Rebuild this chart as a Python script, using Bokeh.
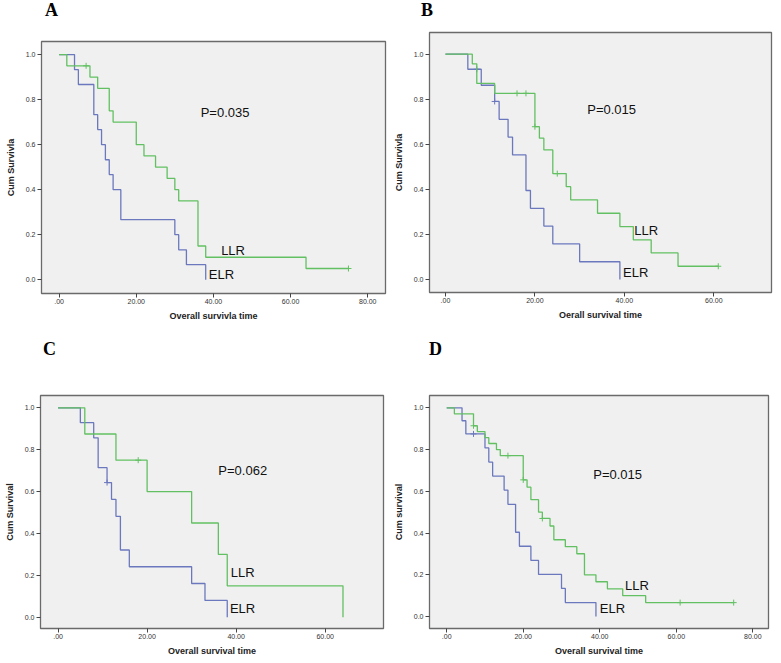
from bokeh.plotting import figure
from bokeh.models import FixedTicker, Label, Range1d, Div
from bokeh.layouts import column, row
from bokeh.embed import file_html
from bokeh.resources import INLINE

# ---------------- data ----------------
# Panel A
A_ELR_t = [4, 5, 9, 10, 11, 12, 13, 14, 16, 30, 31, 33, 38]
A_ELR_s = [0.933, 0.867, 0.733, 0.667, 0.600, 0.533, 0.467, 0.400, 0.267, 0.200, 0.133, 0.067, 0.0]
A_ELR_ct = []
A_ELR_cs = []
A_LLR_t = [2, 8, 10, 13, 14, 20, 22, 25, 28, 30, 31, 36, 38, 64]
A_LLR_s = [0.95, 0.90, 0.85, 0.75, 0.70, 0.60, 0.55, 0.50, 0.45, 0.40, 0.35, 0.15, 0.10, 0.05]
A_LLR_ct = [7, 75]
A_LLR_cs = [0.95, 0.05]

# Panel B
B_ELR_t = [5, 8, 11, 12, 14, 15, 18, 19, 22, 24, 30, 39]
B_ELR_s = [0.933, 0.862, 0.790, 0.711, 0.632, 0.553, 0.395, 0.316, 0.237, 0.158, 0.079, 0.0]
B_ELR_ct = [7, 11]
B_ELR_cs = [0.933, 0.790]
B_LLR_t = [6, 7, 11, 20, 21, 22, 24, 27, 28, 34, 39, 42, 46, 52]
B_LLR_s = [0.957, 0.870, 0.826, 0.678, 0.627, 0.575, 0.470, 0.412, 0.353, 0.294, 0.235, 0.176, 0.118, 0.059]
B_LLR_ct = [16, 18, 20, 25, 61]
B_LLR_cs = [0.826, 0.826, 0.678, 0.470, 0.059]

# Panel C
C_ELR_t = [5, 8, 9, 11, 12, 13, 14, 16, 30, 33, 38]
C_ELR_s = [0.929, 0.857, 0.714, 0.643, 0.563, 0.482, 0.321, 0.241, 0.161, 0.080, 0.0]
C_ELR_ct = [11]
C_ELR_cs = [0.643]
C_LLR_t = [6, 13, 20, 30, 36, 38, 64]
C_LLR_s = [0.875, 0.75, 0.60, 0.45, 0.30, 0.15, 0.0]
C_LLR_ct = [18]
C_LLR_cs = [0.75]

# Panel D
D_ELR_t = [4, 5, 10, 11, 12, 15, 16, 18, 19, 22, 24, 30, 31, 39]
D_ELR_s = [0.938, 0.875, 0.808, 0.740, 0.673, 0.606, 0.538, 0.404, 0.337, 0.269, 0.202, 0.135, 0.067, 0.0]
D_ELR_ct = [7]
D_ELR_cs = [0.875]
D_LLR_t = [2, 7, 8, 10, 11, 13, 14, 20, 21, 22, 24, 25, 27, 28, 31, 34, 36, 39, 42, 46, 52]
D_LLR_s = [0.971, 0.914, 0.886, 0.857, 0.829, 0.800, 0.771, 0.655, 0.620, 0.560, 0.500, 0.470,
           0.434, 0.368, 0.335, 0.301, 0.200, 0.167, 0.133, 0.100, 0.067]
D_LLR_ct = [7, 16, 20, 25, 61, 75]
D_LLR_cs = [0.914, 0.771, 0.655, 0.470, 0.067, 0.067]

y_ticks = [0.0, 0.2, 0.4, 0.6, 0.8, 1.0]
y_tick_labels = ["0.0", "0.2", "0.4", "0.6", "0.8", "1.0"]
x_ticks_80 = [0, 20, 40, 60, 80]
x_ticks_60 = [0, 20, 40, 60]
x_tick_labels = {0: ".00", 20: "20.00", 40: "40.00", 60: "60.00", 80: "80.00"}

p_values = ["P=0.035", "P=0.015", "P=0.062", "P=0.015"]
panel_letters = ["A", "B", "C", "D"]
y_titles = ["Cum Survivla", "Cum Survivla", "Cum Survival", "Cum survival"]
x_titles = ["Overall survivla time", "Oerall survival time", "Overall survival time", "Overall survival time"]

BLUE = "#6b78bd"
GREEN = "#62c062"
SANS = "Liberation Sans"


def km_path(t, s, ct):
    xs = [0] + list(t)
    ys = [1.0] + list(s)
    end = max(list(t) + list(ct))
    if end > xs[-1]:
        xs.append(end)
        ys.append(ys[-1])
    return xs, ys


def letter_div(letter, width, height, pad_left, pad_top):
    html = ('<div style="font-family:\'Liberation Serif\'; font-weight:bold; font-size:18px; '
            'line-height:20px; color:#000; padding-left:%dpx; padding-top:%dpx;">%s</div>'
            % (pad_left, pad_top, letter))
    return Div(text=html, width=width, height=height, margin=0)


def make_panel(width, height, borders, xr, yr, xticks, series,
               ptxt, p_xy, llr_xy, elr_xy, ytitle, xtitle):
    p = figure(width=width, height=height, output_backend="svg", toolbar_location=None,
               x_range=Range1d(*xr), y_range=Range1d(*yr),
               min_border_left=borders[0], min_border_right=borders[1],
               min_border_top=borders[2], min_border_bottom=borders[3])
    p.background_fill_color = "#f0f0f0"
    p.border_fill_color = "white"
    p.outline_line_color = "#6a6a6a"
    p.outline_line_width = 1.3
    p.grid.visible = False

    for ax in (p.xaxis[0], p.yaxis[0]):
        ax.axis_line_color = None
        ax.major_tick_line_color = "#444444"
        ax.major_tick_in = 0
        ax.major_tick_out = 4
        ax.minor_tick_line_color = None
        ax.major_label_text_font = SANS
        ax.major_label_text_font_size = "7px"
        ax.major_label_text_color = "#333333"
        ax.axis_label_text_font = SANS
        ax.axis_label_text_font_size = "9px"
        ax.axis_label_text_font_style = "bold"
        ax.axis_label_text_color = "#222222"
        ax.major_label_standoff = 2
    p.xaxis[0].axis_label_standoff = 4
    p.yaxis[0].axis_label_standoff = 7
    p.xaxis[0].major_label_standoff = 1

    p.xaxis.ticker = FixedTicker(ticks=xticks)
    p.xaxis.major_label_overrides = {k: v for k, v in x_tick_labels.items() if k in xticks}
    p.yaxis.ticker = FixedTicker(ticks=y_ticks)
    p.yaxis.major_label_overrides = dict(zip(y_ticks, y_tick_labels))
    p.xaxis.axis_label = xtitle
    p.yaxis.axis_label = ytitle

    for (t, s, ct, cs, col) in series:
        xs, ys = km_path(t, s, ct)
        p.step(xs, ys, mode="after", line_color=col, line_width=1.3)
        if ct:
            p.scatter(ct, cs, marker="cross", size=6, line_color=col, line_width=1)

    p.add_layout(Label(x=p_xy[0], y=p_xy[1], text=ptxt, text_font=SANS, text_font_size="13px",
                       text_color="#111111", text_baseline="middle", text_align="left"))
    p.add_layout(Label(x=llr_xy[0], y=llr_xy[1], text="LLR", text_font=SANS, text_font_size="13px",
                       text_color="#111111", text_baseline="middle", text_align="left"))
    p.add_layout(Label(x=elr_xy[0], y=elr_xy[1], text="ELR", text_font=SANS, text_font_size="13px",
                       text_color="#111111", text_baseline="middle", text_align="left"))
    return p


pA = make_panel(390, 310, (41, 5, 21, 37), (-4.56, 84.6), (-0.061, 1.058), x_ticks_80,
                [(A_ELR_t, A_ELR_s, A_ELR_ct, A_ELR_cs, BLUE), (A_LLR_t, A_LLR_s, A_LLR_ct, A_LLR_cs, GREEN)],
                p_values[0], (36.7, 0.743), (42.0, 0.13), (38.8, 0.024), y_titles[0], x_titles[0])

pB = make_panel(391, 310, (38, 10, 12, 38), (-3.57, 72.9), (-0.0575, 1.096), x_ticks_60,
                [(B_ELR_t, B_ELR_s, B_ELR_ct, B_ELR_cs, BLUE), (B_LLR_t, B_LLR_s, B_LLR_ct, B_LLR_cs, GREEN)],
                p_values[1], (31.7, 0.754), (42.2, 0.218), (39.7, 0.033), y_titles[1], x_titles[1])

pC = make_panel(390, 303, (40, 7, 35, 35), (-3.95, 73.1), (-0.054, 1.059), x_ticks_60,
                [(C_ELR_t, C_ELR_s, C_ELR_ct, C_ELR_cs, BLUE), (C_LLR_t, C_LLR_s, C_LLR_ct, C_LLR_cs, GREEN)],
                p_values[2], (36.0, 0.70), (38.8, 0.213), (38.6, 0.042), y_titles[2], x_titles[2])

pD = make_panel(391, 303, (34, 13, 35, 35), (-4.5, 84.1), (-0.057, 1.059), x_ticks_80,
                [(D_ELR_t, D_ELR_s, D_ELR_ct, D_ELR_cs, BLUE), (D_LLR_t, D_LLR_s, D_LLR_ct, D_LLR_cs, GREEN)],
                p_values[3], (38.3, 0.68), (46.6, 0.15), (40.0, 0.038), y_titles[3], x_titles[3])

dA = letter_div(panel_letters[0], 390, 20, 45, 0)
dB = letter_div(panel_letters[1], 391, 20, 31, 0)
dC = letter_div(panel_letters[2], 390, 30, 43, 9)
dD = letter_div(panel_letters[3], 391, 30, 39, 9)

layout = column(row(column(dA, pA), column(dB, pB)), row(column(dC, pC), column(dD, pD)))
open("out.html", "w").write(file_html(layout, INLINE))
